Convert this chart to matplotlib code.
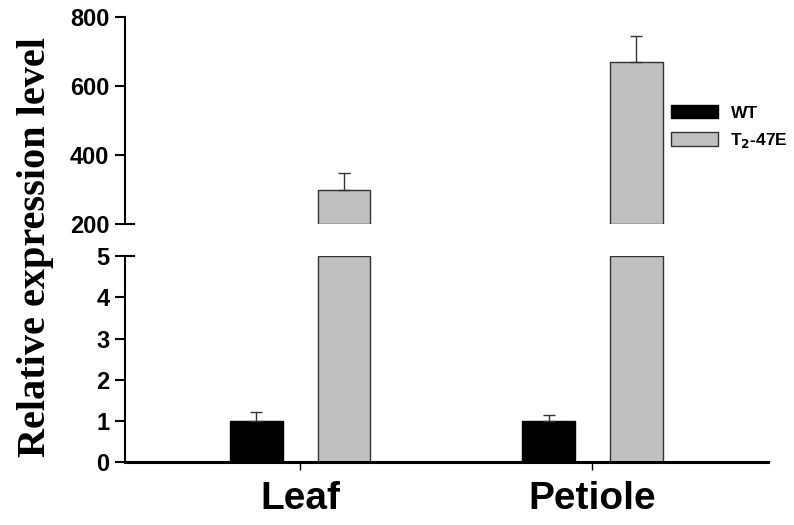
import numpy as np
import matplotlib
matplotlib.use("Agg")
import matplotlib.pyplot as plt

# expression data
tissues = ["Leaf", "Petiole"]
wt_mean = [1.0, 1.0]
wt_err = [0.22, 0.14]
t2_mean = [300, 670]
t2_err = [48, 75]
labels = ["WT", "T$_2$-47E"]

top_ticks = [200, 400, 600, 800]
low_ticks = [0, 1, 2, 3, 4, 5]

plt.rcParams['font.family'] = ['Liberation Sans', 'DejaVu Sans']
plt.rcParams['font.weight'] = 'bold'

fig = plt.figure(figsize=(7.94, 5.25), dpi=100)
ax_top = fig.add_axes([0.157, 0.573, 0.81, 0.394])
ax_low = fig.add_axes([0.157, 0.120, 0.81, 0.392])

x = np.arange(len(tissues))
w = 0.18
off = 0.15
gray = '#c0c0c0'
edge = '#333333'

# lower panel (0-5)
ax_low.bar(x - off, wt_mean, w, color='black', edgecolor='black', label=labels[0])
ax_low.errorbar(x - off, wt_mean, yerr=[np.zeros(2), wt_err], fmt='none',
                ecolor='#333333', elinewidth=1.0, capsize=4.5, capthick=1.0)
low_h = np.minimum(t2_mean, low_ticks[-1])
ax_low.bar(x + off, low_h, w, color=gray, edgecolor=edge, linewidth=1.0, label=labels[1])

# upper panel (200-800)
base = top_ticks[0]
ax_top.bar(x + off, np.array(t2_mean) - base, w, bottom=base, color=gray,
           edgecolor=edge, linewidth=1.0)
ax_top.errorbar(x + off, t2_mean, yerr=[np.zeros(2), t2_err], fmt='none',
                ecolor='#333333', elinewidth=1.0, capsize=4.5, capthick=1.0)

for ax in (ax_top, ax_low):
    ax.set_xlim(-0.6, 1.6)
    ax.spines['top'].set_visible(False)
    ax.spines['right'].set_visible(False)
    ax.spines['left'].set_linewidth(1.5)
    ax.tick_params(axis='y', direction='out', length=7, width=1.5,
                   labelsize=17, pad=4)

ax_top.set_ylim(top_ticks[0], top_ticks[-1])
ax_top.set_yticks(top_ticks)
ax_top.spines['bottom'].set_visible(False)
ax_top.set_xticks([])

ax_low.set_ylim(low_ticks[0], low_ticks[-1])
ax_low.set_yticks(low_ticks)
ax_low.spines['bottom'].set_linewidth(2.2)
ax_low.set_xticks(x)
ax_low.set_xticklabels(tissues, fontsize=28, fontweight='bold')
ax_low.tick_params(axis='x', direction='out', length=6, width=1.0, pad=8)

# break marks poking right of the axis
ax_top.plot([0, 0.015], [0, 0], transform=ax_top.transAxes, color='black',
            lw=1.5, clip_on=False)
ax_low.plot([0, 0.015], [1, 1], transform=ax_low.transAxes, color='black',
            lw=1.5, clip_on=False)

fig.text(0.045, 0.53, "Relative expression level", rotation=90, ha='center',
         va='center', fontsize=29, fontweight='bold',
         family=['Liberation Serif', 'DejaVu Serif'])

handles = [plt.Rectangle((0, 0), 1, 1, facecolor='black', edgecolor='black'),
           plt.Rectangle((0, 0), 1, 1, facecolor=gray, edgecolor=edge)]
fig.legend(handles, labels, loc='upper left', bbox_to_anchor=(0.826, 0.83),
           frameon=False, fontsize=12.5, handlelength=2.7, handleheight=0.8,
           handletextpad=0.7, labelspacing=0.6)

fig.savefig("out.png", dpi=100)
